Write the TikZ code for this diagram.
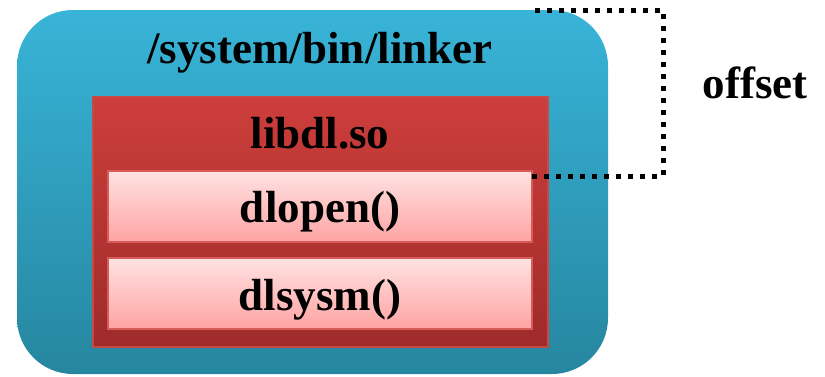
\documentclass[tikz,border=0pt]{standalone}
\usepackage{fontspec}
\setmainfont{Liberation Serif}
\begin{document}
\begin{tikzpicture}[x=1pt,y=-1pt,
  lbl/.style={font=\bfseries\fontsize{45}{50}\selectfont, anchor=base, inner sep=0pt},
  procbox/.style={rectangle, rounded corners=56pt, draw=none,
    top color=skytop, middle color=skymid, bottom color=skybot,
    minimum width=591pt, minimum height=364pt, inner sep=0pt},
  libbox/.style={rectangle, draw={rgb,255:red,200;green,72;blue,68}, line width=1.5pt,
    top color=libtop, bottom color=libbot,
    minimum width=455pt, minimum height=250pt, inner sep=0pt},
  fnbox/.style={rectangle, draw={rgb,255:red,214;green,92;blue,88}, line width=2pt,
    top color={rgb,255:red,255;green,226;blue,226},
    bottom color={rgb,255:red,255;green,163;blue,163},
    minimum width=424pt, minimum height=71pt, inner sep=0pt},
  dotline/.style={line width=5pt, dash pattern=on 5pt off 7pt, black}
]
\definecolor{skytop}{RGB}{56,180,216}
\definecolor{skymid}{RGB}{52,170,204}
\definecolor{skybot}{RGB}{38,134,160}
\definecolor{libtop}{RGB}{205,62,59}
\definecolor{libbot}{RGB}{158,43,42}
\useasboundingbox (0,0) rectangle (825,376);

% linker process image
\node[procbox] (linker) at (312.5,192) {};
% libdl.so region inside the linker
\node[libbox] (libdl) at (320.5,222) {};
% exported functions
\node[fnbox] (dlopen) at (320,206.5) {};
\node[fnbox] (dlsysm) at (320,293.5) {};

\node[lbl] (linkerlbl) at (320,63) {/system/bin/linker};
\node[lbl] (libdllbl) at (320,148) {libdl.so};
\node[lbl] (dlopenlbl) at (320,222) {dlopen()};
\node[lbl] (dlsysmlbl) at (320,310) {dlsysm()};
\node[lbl] (offsetlbl) at (755,98) {offset};

% offset bracket from the top of the linker to dlopen()
\coordinate (otop) at (535,10);
\coordinate (obot) at (527,176);
\draw[dotline] (otop) -- (663,10) -- (663,176) -- (obot);
\end{tikzpicture}
\end{document}
